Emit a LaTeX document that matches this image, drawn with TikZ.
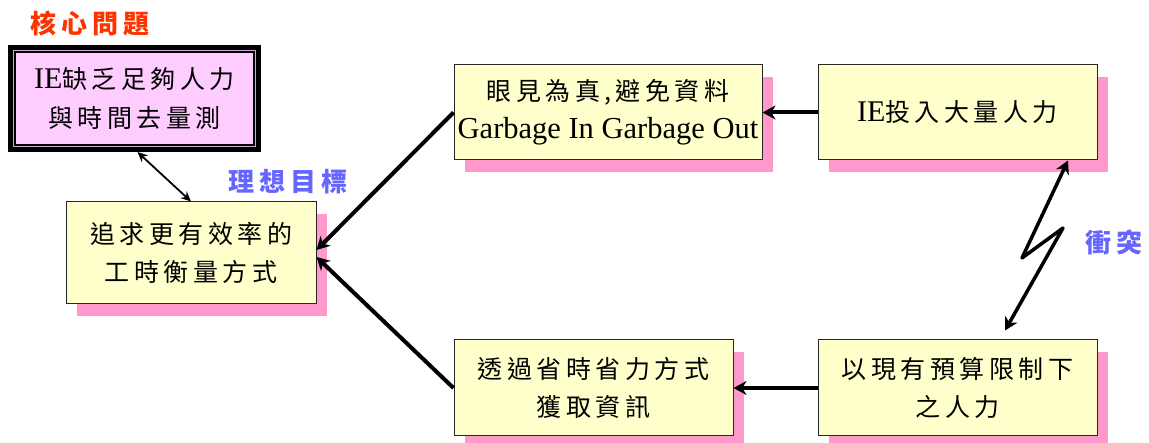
\documentclass[tikz,border=0pt]{standalone}
\usepackage{fontspec}
\setmainfont{Liberation Serif}
\newfontfamily\cjkfont[LetterSpace=18]{Noto Sans CJK TC}
\newfontfamily\cjktitle[LetterSpace=20]{Noto Sans CJK TC}
\usetikzlibrary{arrows.meta,shadows}
\definecolor{boxyellow}{HTML}{FFFFCC}
\definecolor{shadowpink}{HTML}{FF99CC}
\definecolor{corepink}{HTML}{FFCCFF}
\definecolor{framepink}{HTML}{D9A0D9}
\definecolor{titlered}{HTML}{FF3300}
\definecolor{labelblue}{HTML}{6666FF}
\newcommand\lat[1]{{\fontsize{30}{38}\selectfont\rmfamily #1}}
\begin{document}
\begin{tikzpicture}[x=1pt,y=-1pt,
  box/.style={draw=black!85, line width=1pt, fill=boxyellow, align=center, inner sep=0pt,
    font=\cjkfont\fontsize{25}{38}\selectfont,
    drop shadow={shadow xshift=11pt, shadow yshift=-12pt, fill=shadowpink, opacity=1, draw=none}},
  corebox/.style={draw=black, line width=8pt, fill=corepink, align=center, inner sep=0pt,
    minimum width=245pt, minimum height=99pt, font=\cjkfont\fontsize{25}{39}\selectfont},
  bigarrow/.style={line width=4pt, -{Stealth[length=13pt,width=14pt]}},
  thinarrow/.style={line width=1.8pt, {Stealth[length=10pt,width=9pt]}-{Stealth[length=10pt,width=9pt]}},
  zigarrow/.style={line width=3.5pt, line join=round, {Stealth[length=13pt,width=14pt]}-{Stealth[length=13pt,width=14pt]}},
  redlabel/.style={font=\cjktitle\bfseries\fontsize{26}{30}\selectfont, text=titlered, inner sep=0pt},
  bluelabel/.style={font=\cjktitle\bfseries\fontsize{26}{30}\selectfont, text=labelblue, inner sep=0pt}
]
\useasboundingbox (0,0) rectangle (1149,443);

% core problem
\node[corebox] (core) at (134.5,98.5) {\lat{IE}缺乏足夠人力\\與時間去量測};
\draw[line width=0.6pt, draw=framepink] ([shift={(5.5pt,-5.5pt)}]core.north west) rectangle ([shift={(-5.5pt,5.5pt)}]core.south east);
\node[redlabel] (coretitle) at (90,24) {核心問題};

% boxes
\node[box, minimum width=250pt, minimum height=102pt] (goal) at (191,253) {追求更有效率的\\工時衡量方式};
\node[bluelabel] (goaltitle) at (288,182) {理想目標};
\node[box, minimum width=308pt, minimum height=95pt] (see) at (608,112.5) {眼見為真,避免資料\\{\fontsize{30.5}{38}\selectfont\rmfamily Garbage In Garbage Out}};
\node[box, minimum width=279pt, minimum height=95pt] (invest) at (957.5,112.5) {\lat{IE}投入大量人力};
\node[box, minimum width=279pt, minimum height=96pt] (save) at (593.5,388) {透過省時省力方式\\獲取資訊};
\node[box, minimum width=279pt, minimum height=96pt] (budget) at (957.5,388) {以現有預算限制下\\之人力};
\node[bluelabel] (conflict) at (1114,242) {衝突};

% connectors
\draw[thinarrow] ([xshift=3pt]core.south) -- (goal.north);
\draw[bigarrow] (invest.west) -- (see.east);
\draw[bigarrow] (budget.west) -- (save.east);
\draw[bigarrow] (see.west) -- ([yshift=3pt]goal.east);
\draw[bigarrow] (save.west) -- ([yshift=-4pt]goal.east);
\coordinate (z1) at (1022,258);
\coordinate (z2) at (1063,228);
\draw[zigarrow] ([xshift=110.5pt]invest.south) -- (z1) -- (z2) -- ([xshift=47.5pt,yshift=9pt]budget.north);
\end{tikzpicture}
\end{document}
